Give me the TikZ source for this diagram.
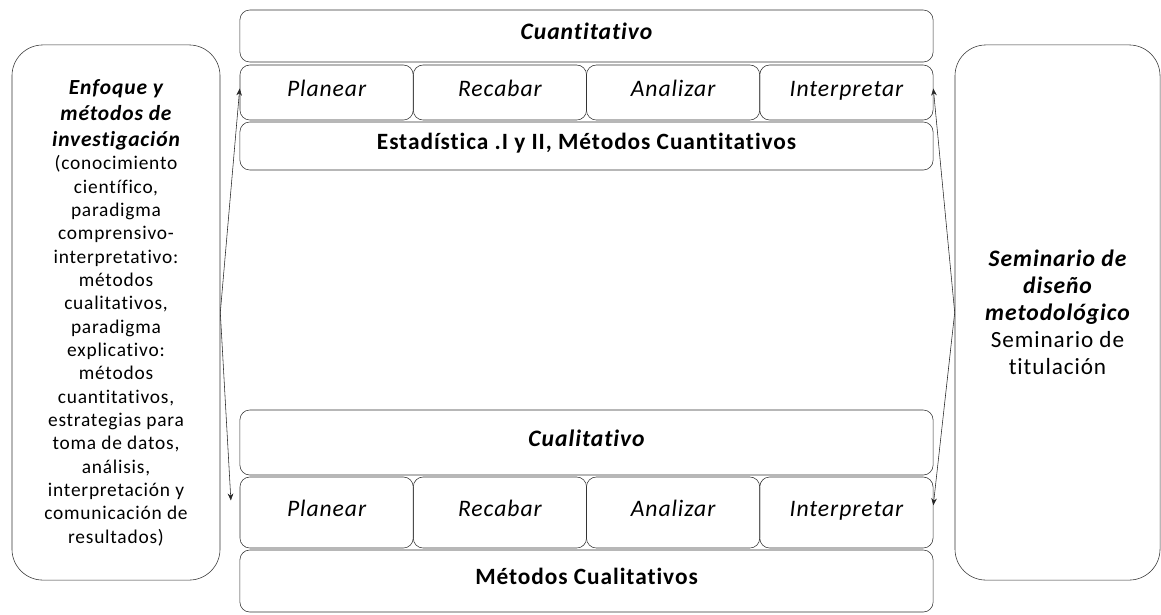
\documentclass[tikz,border=0pt]{standalone}
\usepackage{fontspec}
\setmainfont{Carlito}[LetterSpace=4, Ligatures=CommonOff]
\usetikzlibrary{arrows.meta}

\newcommand{\lhead}[1]{{\fontsize{15.3}{20}\selectfont\bfseries\itshape #1}}
\newcommand{\rhead}[1]{{\fontsize{16.8}{19.5}\selectfont\bfseries\itshape #1}}

\tikzset{
  cell/.style={rectangle, draw=black!80, rounded corners=7pt, inner sep=1pt, align=center,
               text height=0.75em, text depth=0.25em},
  sidebox/.style={rectangle, draw=black!80, rounded corners=22pt, align=center, minimum width=5.2cm, minimum height=13.375cm},
  link/.style={{Stealth[length=5pt,width=4pt]}-{Stealth[length=5pt,width=4pt]}, black!85}
}

\begin{document}
\begin{tikzpicture}[x=0.025cm,y=-0.025cm]
  \useasboundingbox (0,0) rectangle (1161,614);

  % side boxes
  \node[sidebox, font=\fontsize{13.8}{16.6}\selectfont] (enfoque) at (116,312.5)
       {\lhead{Enfoque y}\\[2pt] \lhead{métodos de}\\[2pt] \lhead{investigación}\\
        (conocimiento\\ científico,\\ paradigma\\ comprensivo-\\
        interpretativo:\\ métodos\\ cualitativos,\\ paradigma\\ explicativo:\\ métodos\\ cuantitativos,\\
        estrategias para\\ toma de datos,\\ análisis,\\ interpretación y\\ comunicación de\\ resultados)};
  \node[sidebox, minimum width=5.125cm, font=\fontsize{16.5}{19.3}\selectfont] (seminario) at (1057.5,312.5)
       {\rhead{Seminario de}\\ \rhead{diseño}\\ \rhead{metodológico}\\
        Seminario de\\ titulación};

  % cuantitativo
  \node[cell, minimum width=17.325cm, minimum height=1.3cm, font=\fontsize{16.8}{18}\selectfont\bfseries\itshape]
       (cuanti) at (586.5,36) {Cuantitativo};
  \node[cell, minimum width=4.33cm, minimum height=1.375cm, font=\fontsize{16.8}{18}\selectfont\itshape]
       (qplan) at (326.6,92.5) {Planear};
  \node[cell, minimum width=4.33cm, minimum height=1.375cm, font=\fontsize{16.8}{18}\selectfont\itshape]
       (qreca) at (499.9,92.5) {Recabar};
  \node[cell, minimum width=4.33cm, minimum height=1.375cm, font=\fontsize{16.8}{18}\selectfont\itshape]
       (qanal) at (673.1,92.5) {Analizar};
  \node[cell, minimum width=4.33cm, minimum height=1.375cm, font=\fontsize{16.8}{18}\selectfont\itshape]
       (qinte) at (846.4,92.5) {Interpretar};
  \node[cell, minimum width=17.325cm, minimum height=1.2cm, font=\fontsize{16.6}{18}\selectfont\bfseries]
       (estad) at (586.5,146) {Estadística .I y II, Métodos Cuantitativos};

  % cualitativo
  \node[cell, minimum width=17.325cm, minimum height=1.625cm, font=\fontsize{16.8}{18}\selectfont\bfseries\itshape]
       (cuali) at (586.5,442.5) {Cualitativo};
  \node[cell, minimum width=4.33cm, minimum height=1.775cm, font=\fontsize{16.8}{18}\selectfont\itshape]
       (lplan) at (326.6,512.5) {Planear};
  \node[cell, minimum width=4.33cm, minimum height=1.775cm, font=\fontsize{16.8}{18}\selectfont\itshape]
       (lreca) at (499.9,512.5) {Recabar};
  \node[cell, minimum width=4.33cm, minimum height=1.775cm, font=\fontsize{16.8}{18}\selectfont\itshape]
       (lanal) at (673.1,512.5) {Analizar};
  \node[cell, minimum width=4.33cm, minimum height=1.775cm, font=\fontsize{16.8}{18}\selectfont\itshape]
       (linte) at (846.4,512.5) {Interpretar};
  \node[cell, minimum width=17.325cm, minimum height=1.55cm, font=\fontsize{16.6}{18}\selectfont\bfseries]
       (metcual) at (586.5,581) {Métodos Cualitativos};

  % arrows
  \coordinate (lefttip) at ([xshift=-0.22cm,yshift=0.3cm]lplan.west);
  \coordinate (righttip) at ([yshift=0.18cm]linte.east);
  \draw[link] ([yshift=0.1cm]qplan.west) -- (enfoque.east) -- (lefttip);
  \draw[link] ([yshift=0.1cm]qinte.east) -- (seminario.west) -- (righttip);
\end{tikzpicture}
\end{document}
